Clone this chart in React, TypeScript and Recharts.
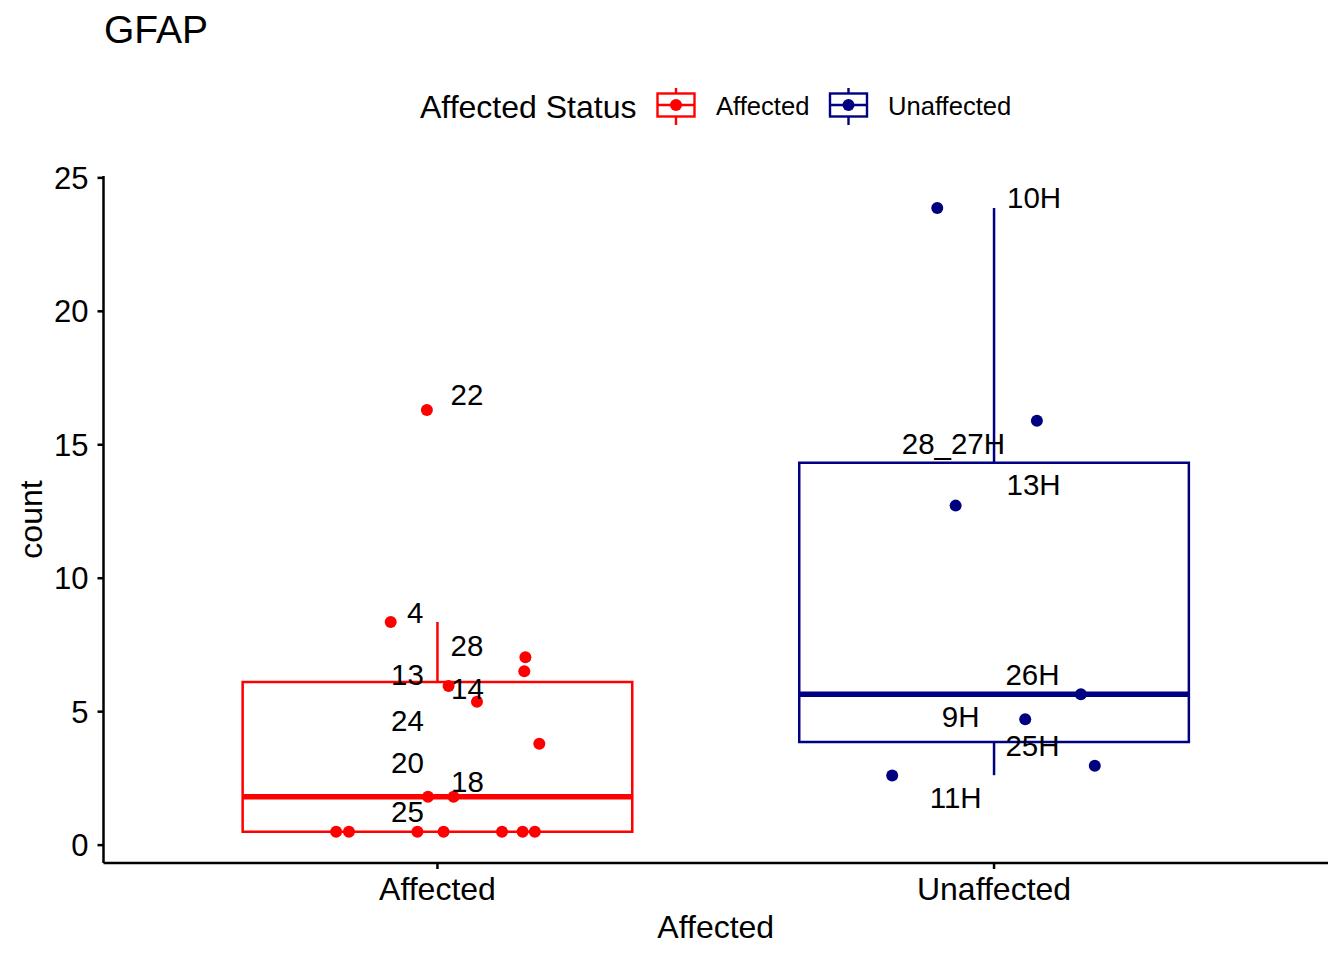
import {
  ComposedChart,
  Scatter,
  XAxis,
  YAxis,
  ReferenceArea,
  ReferenceLine,
} from "recharts";

const FONT = '"Liberation Sans", Arial, Helvetica, sans-serif';

const CATEGORIES = ["Affected", "Unaffected"];
const COLORS = ["#ff0000", "#000080"];
const Y_TICKS = [0, 5, 10, 15, 20, 25];

// box stats per category (lower whisker, q1, median, q3, upper whisker)
const BOX_LOWER = [0.5, 2.62];
const BOX_Q1 = [0.5, 3.86];
const BOX_MEDIAN = [1.81, 5.65];
const BOX_Q3 = [6.11, 14.33];
const BOX_UPPER = [8.36, 23.87];

// jittered points
const AFFECTED_X = [0.981, 0.916, 1.158, 1.156, 1.02, 1.071, 1.183, 0.983, 1.029, 0.818, 0.841, 0.964, 1.011, 1.116, 1.153, 1.175];
const AFFECTED_Y = [16.3, 8.36, 7.04, 6.51, 5.96, 5.37, 3.8, 1.81, 1.81, 0.5, 0.5, 0.5, 0.5, 0.5, 0.5, 0.5];
const UNAFFECTED_X = [1.898, 2.077, 1.931, 2.156, 2.056, 2.181, 1.817];
const UNAFFECTED_Y = [23.87, 15.9, 12.72, 5.65, 4.72, 2.97, 2.61];

// sample labels (repelled positions)
const AFFECTED_LABELS = ["22", "4", "28", "13", "14", "24", "20", "18", "25"];
const AFFECTED_LABEL_X = [1.053, 0.96, 1.053, 0.946, 1.054, 0.946, 0.946, 1.054, 0.946];
const AFFECTED_LABEL_Y = [16.87, 8.71, 7.5, 6.41, 5.88, 4.69, 3.1, 2.37, 1.27];
const UNAFFECTED_LABELS = ["10H", "28_27H", "13H", "26H", "9H", "25H", "11H"];
const UNAFFECTED_LABEL_X = [2.072, 1.927, 2.071, 2.069, 1.94, 2.069, 1.931];
const UNAFFECTED_LABEL_Y = [24.27, 15.04, 13.5, 6.41, 4.81, 3.75, 1.77];

const BOX_HALF = 0.35;

const toPoints = (xs: number[], ys: number[]) => xs.map((x, i) => ({ x, y: ys[i] }));
const toLabels = (names: string[], xs: number[], ys: number[]) =>
  names.map((label, i) => ({ x: xs[i], y: ys[i], label }));

const pointSeries = [toPoints(AFFECTED_X, AFFECTED_Y), toPoints(UNAFFECTED_X, UNAFFECTED_Y)];
const labelData = [
  ...toLabels(AFFECTED_LABELS, AFFECTED_LABEL_X, AFFECTED_LABEL_Y),
  ...toLabels(UNAFFECTED_LABELS, UNAFFECTED_LABEL_X, UNAFFECTED_LABEL_Y),
];

const dot = (color: string) => (p: any) => (
  <circle cx={p.cx} cy={p.cy} r={6} fill={color} />
);

const labelShape = (p: any) => (
  <text
    x={p.cx}
    y={p.cy}
    dy="0.36em"
    textAnchor="middle"
    fontFamily={FONT}
    fontSize={29.5}
    fill="#000"
  >
    {p.payload.label}
  </text>
);

const YTitle = (props: any) => {
  const vb = props.viewBox;
  const cy = vb.y + vb.height / 2;
  return (
    <text
      x={30}
      y={cy}
      transform={`rotate(-90, 30, ${cy})`}
      dy="0.36em"
      textAnchor="middle"
      fontFamily={FONT}
      fontSize={32}
      fill="#000"
    >
      count
    </text>
  );
};

const XTitle = (props: any) => {
  const vb = props.viewBox;
  return (
    <text
      x={vb.x + vb.width / 2}
      y={938}
      textAnchor="middle"
      fontFamily={FONT}
      fontSize={32}
      fill="#000"
    >
      Affected
    </text>
  );
};

function LegendKey({ x, color }: { x: number; color: string }) {
  const w = 37;
  const cx = x + w / 2;
  return (
    <g>
      <line x1={cx} y1={88} x2={cx} y2={125} stroke={color} strokeWidth={2.4} />
      <rect x={x} y={93.5} width={w} height={23} fill="#fff" stroke={color} strokeWidth={2.4} />
      <line x1={x} y1={105} x2={x + w} y2={105} stroke={color} strokeWidth={2.4} />
      <circle cx={cx} cy={105} r={6} fill={color} />
    </g>
  );
}

const LEGEND_KEY_X = [657.5, 830];
const LEGEND_TEXT_X = [716, 888];

export default function App() {
  const axisStyle = { stroke: "#000", strokeWidth: 2.5 };
  const tickStyle = { fill: "#000", fontSize: 32, fontFamily: FONT };
  return (
    <div style={{ position: "relative", width: 1344, height: 960, margin: -8, background: "#fff" }}>
      <div style={{ position: "absolute", left: 0, top: 0 }}>
        <ComposedChart
          width={1344}
          height={960}
          margin={{ top: 176, right: 16, bottom: 0, left: 0 }}
        >
          <XAxis
            type="number"
            dataKey="x"
            domain={[0.4, 2.6]}
            ticks={[1, 2]}
            tickFormatter={(v: number) => CATEGORIES[Math.round(v) - 1]}
            allowDataOverflow
            height={97}
            tickSize={6}
            tickMargin={8}
            axisLine={axisStyle}
            tickLine={axisStyle}
            tick={tickStyle}
            label={<XTitle />}
          />
          <YAxis
            type="number"
            dataKey="y"
            domain={[-0.67, 25.07]}
            ticks={Y_TICKS}
            allowDataOverflow
            width={103.5}
            tickSize={6}
            tickMargin={9}
            axisLine={axisStyle}
            tickLine={axisStyle}
            tick={{ ...tickStyle, fontSize: 31 }}
            label={<YTitle />}
          />
          {CATEGORIES.map((c, i) => (
            <ReferenceLine
              key={`wl-${c}`}
              segment={[
                { x: i + 1, y: BOX_LOWER[i] },
                { x: i + 1, y: BOX_Q1[i] },
              ]}
              stroke={COLORS[i]}
              strokeWidth={2.5}
            />
          ))}
          {CATEGORIES.map((c, i) => (
            <ReferenceLine
              key={`wu-${c}`}
              segment={[
                { x: i + 1, y: BOX_Q3[i] },
                { x: i + 1, y: BOX_UPPER[i] },
              ]}
              stroke={COLORS[i]}
              strokeWidth={2.5}
            />
          ))}
          {CATEGORIES.map((c, i) => (
            <ReferenceArea
              key={`box-${c}`}
              x1={i + 1 - BOX_HALF}
              x2={i + 1 + BOX_HALF}
              y1={BOX_Q1[i]}
              y2={BOX_Q3[i]}
              fill="#fff"
              fillOpacity={1}
              stroke={COLORS[i]}
              strokeWidth={2.5}
            />
          ))}
          {CATEGORIES.map((c, i) => (
            <ReferenceLine
              key={`med-${c}`}
              segment={[
                { x: i + 1 - BOX_HALF, y: BOX_MEDIAN[i] },
                { x: i + 1 + BOX_HALF, y: BOX_MEDIAN[i] },
              ]}
              stroke={COLORS[i]}
              strokeWidth={5.5}
            />
          ))}
          {CATEGORIES.map((c, i) => (
            <Scatter
              key={`pts-${c}`}
              name={c}
              data={pointSeries[i]}
              shape={dot(COLORS[i])}
              isAnimationActive={false}
            />
          ))}
          <Scatter name="labels" data={labelData} shape={labelShape} isAnimationActive={false} />
        </ComposedChart>
      </div>
      <svg
        width={1344}
        height={960}
        style={{ position: "absolute", left: 0, top: 0, pointerEvents: "none" }}
      >
        <text x={104} y={43} fontFamily={FONT} fontSize={39} fill="#000">
          GFAP
        </text>
        <text x={420} y={118} fontFamily={FONT} fontSize={32} fill="#000">
          Affected Status
        </text>
        {CATEGORIES.map((c, i) => (
          <g key={`leg-${c}`}>
            <LegendKey x={LEGEND_KEY_X[i]} color={COLORS[i]} />
            <text x={LEGEND_TEXT_X[i]} y={115} fontFamily={FONT} fontSize={25.6} fill="#000">
              {c}
            </text>
          </g>
        ))}
      </svg>
    </div>
  );
}
